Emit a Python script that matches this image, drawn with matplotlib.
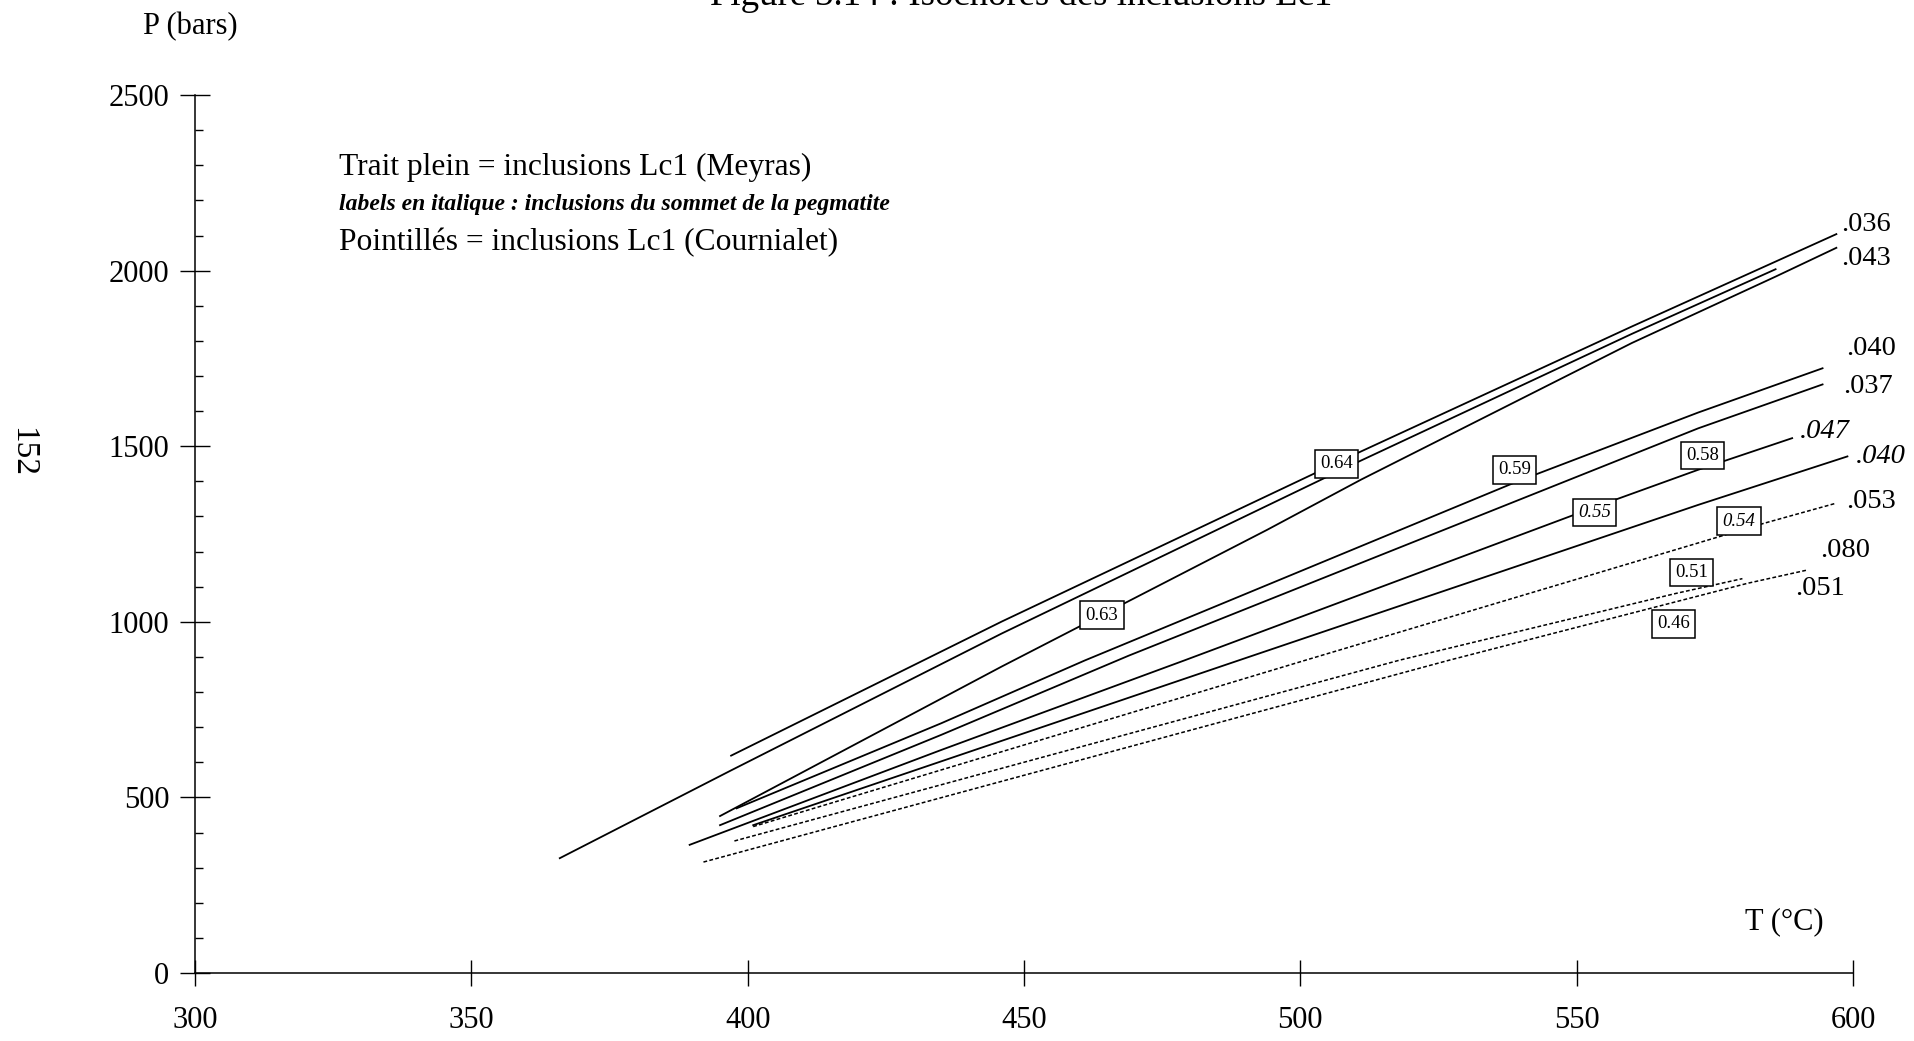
import matplotlib
matplotlib.use("Agg")
import matplotlib.pyplot as plt
from matplotlib.ticker import MultipleLocator

plt.rcParams['font.family'] = ['Liberation Serif', 'DejaVu Serif']

# ---- data (T in °C, P in bars) ----
T_036 = [397, 446, 510, 560, 597]
P_036 = [619, 1001, 1478, 1841, 2104]

T_064b = [366, 397, 446, 510, 560, 586]
P_064b = [327, 577, 967, 1452, 1820, 2004]

T_043 = [395, 446, 494, 511, 560, 586, 597]
P_043 = [447, 873, 1262, 1405, 1794, 1983, 2065]

T_040 = [398, 435, 461, 539, 572, 594.5]
P_040 = [469, 711, 890, 1398, 1596, 1722]

T_037 = [395, 435, 469, 572, 594.5]
P_037 = [421, 678, 904, 1551, 1676]

T_047i = [389.5, 435, 479, 553, 572, 589]
P_047i = [365, 635, 890, 1325, 1433, 1523]

T_040i = [401, 489, 572, 599]
P_040i = [421, 891, 1333, 1471]

T_053 = [401, 501, 584, 597]
P_053 = [417, 891, 1281, 1338]

T_080 = [397.6, 518, 568, 580]
P_080 = [376, 891, 1081, 1123]

T_051 = [392, 527, 581, 591.6]
P_051 = [316, 891, 1110, 1147]

solid_lines = [(T_036, P_036), (T_064b, P_064b), (T_043, P_043), (T_040, P_040),
               (T_037, P_037), (T_047i, P_047i), (T_040i, P_040i)]
dashed_lines = [(T_053, P_053), (T_080, P_080), (T_051, P_051)]

# end labels (composition)
end_labels = ['.036', '.043', '.040', '.037', '.047', '.040', '.053', '.080', '.051']
end_T = [597.9, 597.9, 598.8, 598.2, 590.4, 600.6, 598.8, 594.0, 589.5]
end_P = [2130, 2035, 1779, 1670, 1542, 1470, 1342, 1204, 1095]
end_italic = [False, False, False, False, True, True, False, False, False]

# density boxes
box_labels = ['0.64', '0.63', '0.59', '0.58', '0.55', '0.54', '0.51', '0.46']
box_T = [506.5, 464.1, 538.8, 572.8, 553.2, 579.4, 570.8, 567.5]
box_P = [1450, 1019, 1433, 1474, 1311, 1287, 1140, 994]
box_italic = [False, False, False, False, True, True, False, False]

x_ticks = [300, 350, 400, 450, 500, 550, 600]
y_ticks = [0, 500, 1000, 1500, 2000, 2500]

fig = plt.figure(figsize=(19.14, 10.41), dpi=100)
ax = fig.add_axes([0.1019, 0.0653, 0.8662, 0.8434])

for T, P in solid_lines:
    ax.plot(T, P, color='black', lw=1.3, solid_joinstyle='round', zorder=2)
for T, P in dashed_lines:
    ax.plot(T, P, color='black', lw=1.1, linestyle=(0, (2.5, 1.5)), zorder=2)

for lab, t, p, it in zip(end_labels, end_T, end_P, end_italic):
    ax.text(t, p, lab, ha='left', va='center', fontsize=20.5,
            style='italic' if it else 'normal', clip_on=False)

for lab, t, p, it in zip(box_labels, box_T, box_P, box_italic):
    ax.text(t, p, lab, ha='center', va='center', fontsize=13.5,
            style='italic' if it else 'normal', zorder=5,
            bbox=dict(boxstyle='square,pad=0.28', fc='white', ec='black', lw=1.1))

ax.text(326.1, 2295, 'Trait plein = inclusions Lc1 (Meyras)', ha='left', va='center', fontsize=22.7)
ax.text(326.1, 2187, 'labels en italique : inclusions du sommet de la pegmatite', ha='left',
        va='center', fontsize=17, style='italic', fontweight='bold')
ax.text(326.1, 2079, 'Pointillés = inclusions Lc1 (Cournialet)', ha='left', va='center', fontsize=22.7)

ax.text(587.6, 146, 'T (°C)', ha='center', va='center', fontsize=22)

ax.set_xlim(300, 600)
ax.set_ylim(0, 2500)
ax.set_xticks(x_ticks)
ax.set_yticks(y_ticks)
ax.yaxis.set_minor_locator(MultipleLocator(100))
ax.tick_params(axis='x', direction='inout', length=19, width=1.0, pad=14, labelsize=22)
ax.tick_params(axis='y', which='major', direction='inout', length=21, width=1.0, pad=8, labelsize=22)
ax.tick_params(axis='y', which='minor', direction='in', length=6, width=1.0)
for s in ['top', 'right']:
    ax.spines[s].set_visible(False)
for s in ['left', 'bottom']:
    ax.spines[s].set_linewidth(1.1)
ax.patch.set_alpha(0)

fig.text(0.0995, 0.974, 'P (bars)', ha='center', va='center', fontsize=22)
fig.text(0.5335, 0.995, 'Figure 3.14 : Isochores des inclusions Lc1', ha='center',
         va='baseline', fontsize=26.5)
fig.text(0.0115, 0.566, '152', ha='center', va='center', fontsize=24, rotation=-90)

fig.savefig('out.png', dpi=100, facecolor='white')
